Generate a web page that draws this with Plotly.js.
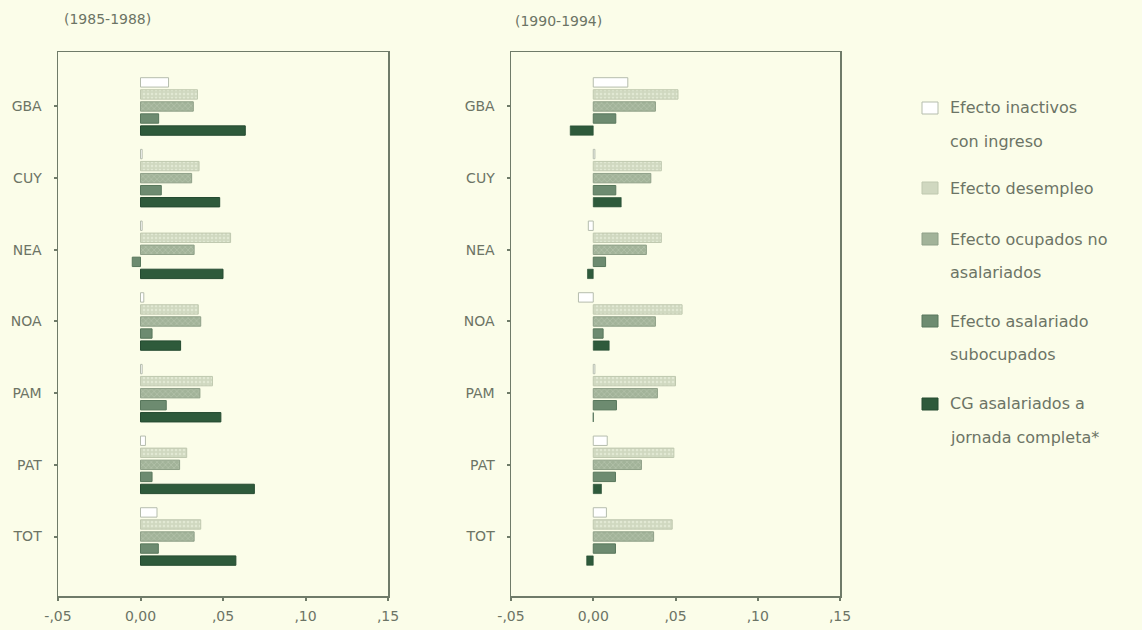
<!DOCTYPE html>
<html>
<head>
<meta charset="utf-8">
<script src="https://cdn.plot.ly/plotly-3.0.1.min.js"></script>
<style>
  html, body { margin: 0; padding: 0; background: #fbfde9; }
  #chart { width: 1142px; height: 630px; }
</style>
</head>
<body>
<div id="chart"></div>
<script>
// ---------- data ----------
const regions = ["GBA", "CUY", "NEA", "NOA", "PAM", "PAT", "TOT"];
const seriesNames = [
  "Efecto inactivos<br>con ingreso",
  "Efecto desempleo",
  "Efecto ocupados no<br>asalariados",
  "Efecto asalariado<br>subocupados",
  "CG asalariados a<br>jornada completa*"
];
const panelTitles = ["(1985-1988)", "(1990-1994)"];
const xTickVals = [-0.05, 0, 0.05, 0.10, 0.15];
const xTickText = ["-,05", "0,00", ",05", ",10", ",15"];

// Period 1985-1988
const p1Inactivos   = [0.017, 0.001, 0.001, 0.002, 0.001, 0.003, 0.010];
const p1Desempleo   = [0.0345, 0.0355, 0.0546, 0.035, 0.0436, 0.028, 0.0365];
const p1Ocupados    = [0.032, 0.031, 0.0325, 0.0365, 0.036, 0.0237, 0.0325];
const p1Subocupados = [0.011, 0.0126, -0.005, 0.007, 0.0156, 0.007, 0.0108];
const p1Completa    = [0.0635, 0.048, 0.050, 0.0243, 0.0487, 0.069, 0.0578];

// Period 1990-1994
const p2Inactivos   = [0.021, 0.001, -0.003, -0.009, 0.001, 0.0085, 0.008];
const p2Desempleo   = [0.0515, 0.0414, 0.0414, 0.054, 0.050, 0.049, 0.048];
const p2Ocupados    = [0.0378, 0.035, 0.0323, 0.0378, 0.039, 0.0293, 0.0367];
const p2Subocupados = [0.0137, 0.0137, 0.0075, 0.006, 0.0141, 0.0135, 0.0135];
const p2Completa    = [-0.014, 0.017, -0.0035, 0.0097, 0.0, 0.005, -0.004];

// ---------- styles ----------
const fills   = ["#ffffff", "#d0d8c0", "#a2b399", "#6d8b70", "#2e5a3b"];
const lines   = ["#b5bdad", "#bfc8af", "#8fa088", "#58775c", "#244a30"];
const patFg   = ["", "#e6ecd8", "#bcc9b3", "", ""];
const patterns = ["", ".", "x", "", ""];
const textColor = "#6c7465";
const frameColor = "#6f7b69";
const bg = "#fbfde9";

const p1 = [p1Inactivos, p1Desempleo, p1Ocupados, p1Subocupados, p1Completa];
const p2 = [p2Inactivos, p2Desempleo, p2Ocupados, p2Subocupados, p2Completa];

const traces = [];
[p1, p2].forEach((panel, pi) => {
  panel.forEach((vals, si) => {
    const marker = {
      color: fills[si],
      line: { color: lines[si], width: vals === p2Completa ? 0.6 : 1 }
    };
    if (patterns[si]) {
      marker.pattern = { shape: patterns[si], size: 4, solidity: 0.3,
        bgcolor: fills[si], fgcolor: patFg[si], fgopacity: 0.8 };
    }
    traces.push({
      type: "bar",
      orientation: "h",
      y: regions,
      x: vals,
      name: seriesNames[si].replace("<br>", " "),
      xaxis: pi === 0 ? "x" : "x2",
      yaxis: pi === 0 ? "y" : "y2",
      showlegend: false,
      hoverinfo: "x+y",
      marker: marker
    });
  });
});

// pixel helpers for layout placement
const W = 1142, H = 630, mL = 58, mR = 302, mT = 52, mB = 34;
const pw = W - mL - mR, ph = H - mT - mB;
const px = x => (x - mL) / pw;
const py = y => (H - mB - y) / ph;

const tickFont = { family: "DejaVu Sans, sans-serif", size: 14, color: textColor };
const axisX = {
  range: [-0.05, 0.15],
  tickvals: xTickVals,
  ticktext: xTickText,
  showline: true, mirror: true, linecolor: frameColor, linewidth: 1.5,
  showgrid: false, zeroline: false,
  ticks: "outside", ticklen: 3, tickwidth: 2, tickcolor: frameColor,
  ticklabelstandoff: 4,
  tickfont: tickFont
};
const axisY = {
  type: "category",
  range: [6.83, -0.76],
  showline: true, mirror: true, linecolor: frameColor, linewidth: 1.5,
  showgrid: false, zeroline: false,
  ticks: "outside", ticklen: 3, tickwidth: 2, tickcolor: frameColor,
  ticklabelstandoff: 9,
  tickfont: tickFont
};

const annotations = [];
const shapes = [];
// panel titles
const titleFont = { family: "DejaVu Sans, sans-serif", size: 14, color: textColor };
annotations.push({ xref: "paper", yref: "paper", x: px(62), y: py(19), xanchor: "left", yanchor: "middle",
  text: panelTitles[0], showarrow: false, font: titleFont });
annotations.push({ xref: "paper", yref: "paper", x: px(513), y: py(21), xanchor: "left", yanchor: "middle",
  text: panelTitles[1], showarrow: false, font: titleFont });

// custom legend
const legendFirstLineY = [108, 188, 239, 321, 404];
const lineGap = 33;
seriesNames.forEach((nm, i) => {
  const parts = nm.split("<br>");
  parts.forEach((t, k) => {
    annotations.push({ xref: "paper", yref: "paper", x: px(948), y: py(legendFirstLineY[i] + k * lineGap),
      xanchor: "left", yanchor: "middle", text: t, showarrow: false,
      font: { family: "DejaVu Sans, sans-serif", size: 16, color: textColor } });
  });
  const cy = legendFirstLineY[i];
  shapes.push({ type: "rect", xref: "paper", yref: "paper",
    x0: px(922), x1: px(938), y0: py(cy + 6), y1: py(cy - 6),
    fillcolor: fills[i], line: { color: lines[i], width: 1 } });
});

const layout = {
  width: W, height: H,
  margin: { l: mL, r: mR, t: mT, b: mB, pad: 0 },
  paper_bgcolor: bg, plot_bgcolor: bg,
  barmode: "group", bargap: 0.16, bargroupgap: 0.22,
  showlegend: false,
  xaxis: Object.assign({ domain: [0, 330 / pw], anchor: "y" }, axisX),
  xaxis2: Object.assign({ domain: [(511 - mL) / pw, 1], anchor: "y2" }, axisX),
  yaxis: Object.assign({ anchor: "x" }, axisY),
  yaxis2: Object.assign({ anchor: "x2" }, axisY),
  annotations: annotations,
  shapes: shapes
};

Plotly.newPlot("chart", traces, layout, { displayModeBar: false, staticPlot: true });
</script>
</body>
</html>
